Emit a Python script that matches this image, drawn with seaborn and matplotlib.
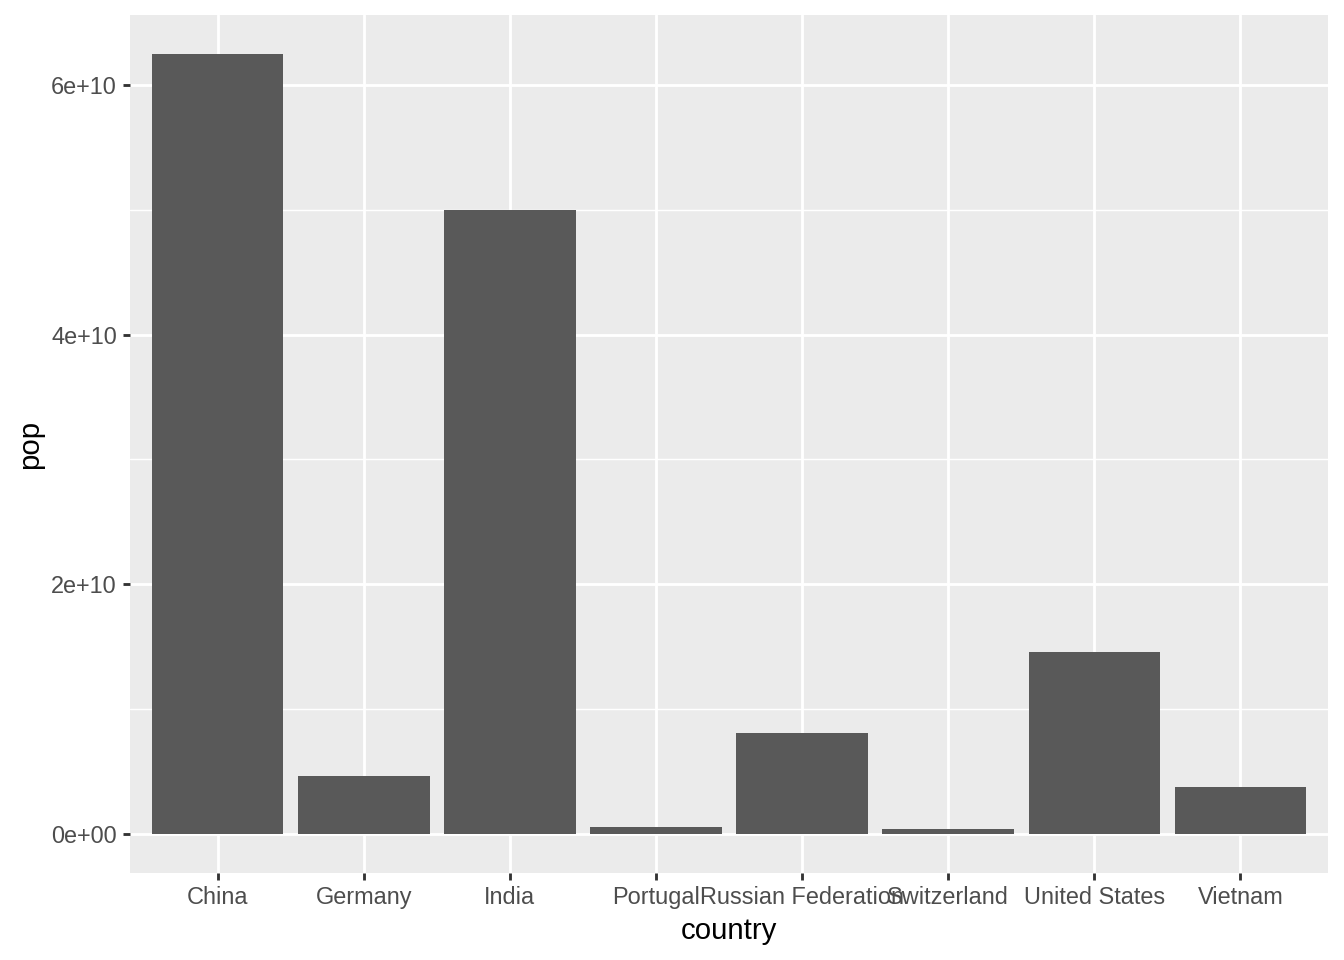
import matplotlib
matplotlib.use("Agg")
import matplotlib.pyplot as plt
import seaborn as sns
import pandas as pd
from matplotlib.ticker import FixedLocator

# data
countries = ["China", "Germany", "India", "Portugal", "Russian Federation",
             "Switzerland", "United States", "Vietnam"]
pop = [6.248e10, 0.464e10, 5.0e10, 0.056e10, 0.808e10, 0.04e10, 1.456e10, 0.376e10]
y_ticks = [0, 2e10, 4e10, 6e10]
y_tick_labels = ["0e+00", "2e+10", "4e+10", "6e+10"]
y_minor = [1e10, 3e10, 5e10]

df = pd.DataFrame({"country": countries, "pop": pop})

sns.set_theme(style="darkgrid")
plt.rcParams["font.family"] = ["Liberation Sans", "DejaVu Sans"]

fig = plt.figure(figsize=(7, 5), dpi=192)
ax = fig.add_axes([130 / 1344, 87 / 960, 1198 / 1344, 858 / 960])
ax.set_facecolor("#EBEBEB")

sns.barplot(data=df, x="country", y="pop", color="#595959", saturation=1,
            width=0.9, ax=ax, zorder=3, linewidth=0, edgecolor="none")

ymax = max(pop)
ax.set_ylim(-0.05 * ymax, 1.05 * ymax)
ax.set_xlim(-0.6, len(countries) - 1 + 0.6)

ax.yaxis.set_major_locator(FixedLocator(y_ticks))
ax.set_yticks(y_ticks)
ax.set_yticklabels(y_tick_labels)
ax.set_yticks(y_minor, minor=True)

ax.grid(False)
ax.grid(True, which="major", color="white", linewidth=1.07, zorder=1)
ax.yaxis.grid(True, which="minor", color="white", linewidth=0.53, zorder=1)
ax.set_axisbelow(True)
for s in ax.spines.values():
    s.set_visible(False)

ax.tick_params(axis="both", which="major", length=2.75, width=1.07, color="#333333",
               labelsize=8.8, labelcolor="#4D4D4D", pad=2.2,
               bottom=True, left=True)
ax.tick_params(axis="y", which="minor", length=0, left=False)

ax.set_xlabel("country", fontsize=11, color="black", labelpad=2.75)
ax.set_ylabel("pop", fontsize=11, color="black", labelpad=2.75)

fig.savefig("out.png", dpi=192)
